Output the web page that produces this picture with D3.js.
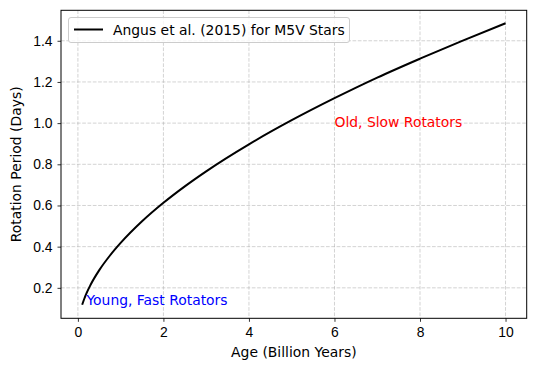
<!DOCTYPE html>
<html>
<head>
<meta charset="utf-8">
<script src="https://cdn.jsdelivr.net/npm/d3@7"></script>
<style>
  body { margin: 0; background: #fff; }
  svg { display: block; font-family: "DejaVu Sans", sans-serif; }
  .tick text { font-size: 13.9px; fill: #000; }
</style>
</head>
<body>
<svg id="viz" width="536" height="371"></svg>
<script>
// ages (Gyr) and periods (days)
var ages = [0.1, 0.15, 0.2, 0.3, 0.5, 0.75, 1, 1.5, 2, 2.5, 3, 4, 5, 6, 7, 8, 9, 10]
var periods = [0.118, 0.147, 0.173, 0.216, 0.286, 0.357, 0.418, 0.523, 0.613, 0.693, 0.766, 0.897, 1.014, 1.121, 1.221, 1.313, 1.401, 1.485]
var xTicks = [0, 2, 4, 6, 8, 10]
var yTicks = [0.2, 0.4, 0.6, 0.8, 1.0, 1.2, 1.4]

var svg = d3.select("#viz")
var pLeft = 61, pRight = 526.7, pTop = 10.3, pBottom = 318.3

var x = d3.scaleLinear().domain([-0.395, 10.495]).range([pLeft, pRight])
var y = d3.scaleLinear().domain([0.052, 1.548]).range([pBottom, pTop])

// grid
svg.append("g").selectAll("line").data(xTicks).join("line")
  .attr("x1", d => x(d)).attr("x2", d => x(d))
  .attr("y1", pTop).attr("y2", pBottom)
  .attr("stroke", "#b0b0b0").attr("stroke-opacity", 0.7)
  .attr("stroke-width", 0.8).attr("stroke-dasharray", "3.7,1.6")
svg.append("g").selectAll("line").data(yTicks).join("line")
  .attr("x1", pLeft).attr("x2", pRight)
  .attr("y1", d => y(d)).attr("y2", d => y(d))
  .attr("stroke", "#b0b0b0").attr("stroke-opacity", 0.7)
  .attr("stroke-width", 0.8).attr("stroke-dasharray", "3.7,1.6")

// axes
var xAxis = svg.append("g").attr("transform", `translate(0,${pBottom})`)
  .call(d3.axisBottom(x).tickValues(xTicks).tickSize(3.5).tickPadding(5).tickFormat(d3.format("d")))
var yAxis = svg.append("g").attr("transform", `translate(${pLeft},0)`)
  .call(d3.axisLeft(y).tickValues(yTicks).tickSize(3.5).tickPadding(5).tickFormat(d3.format(".1f")))
svg.selectAll(".domain").remove()
svg.selectAll(".tick line").attr("stroke", "#000").attr("stroke-width", 0.8)
xAxis.selectAll("text").attr("dy", "0.75em").attr("y", 8)

// frame
svg.append("rect")
  .attr("x", pLeft).attr("y", pTop)
  .attr("width", pRight - pLeft).attr("height", pBottom - pTop)
  .attr("fill", "none").attr("stroke", "#000").attr("stroke-width", 1)

// curve
var pts = ages.map((a, i) => [a, periods[i]])
svg.append("path")
  .datum(pts)
  .attr("fill", "none").attr("stroke", "#000").attr("stroke-width", 2)
  .attr("d", d3.line().x(d => x(d[0])).y(d => y(d[1])).curve(d3.curveMonotoneX))

// annotations
svg.append("text").attr("x", x(6)).attr("y", y(1.0) + 4)
  .attr("fill", "red").style("font-size", "13.9px").text("Old, Slow Rotators")
svg.append("text").attr("x", x(0.2)).attr("y", y(0.12) + 0.5)
  .attr("fill", "blue").style("font-size", "13.9px").text("Young, Fast Rotators")

// axis titles
svg.append("text").attr("x", (pLeft + pRight) / 2).attr("y", 357)
  .attr("text-anchor", "middle").style("font-size", "13.9px").text("Age (Billion Years)")
svg.append("text").attr("transform", `translate(20.5,${(pTop + pBottom) / 2}) rotate(-90)`)
  .attr("text-anchor", "middle").style("font-size", "13.9px").text("Rotation Period (Days)")

// legend
var lg = svg.append("g")
lg.append("rect").attr("x", 68.5).attr("y", 17.5).attr("width", 281).attr("height", 25)
  .attr("rx", 2.5).attr("fill", "#fff").attr("fill-opacity", 0.8)
  .attr("stroke", "#cccccc").attr("stroke-width", 1)
lg.append("line").attr("x1", 74).attr("x2", 103).attr("y1", 29.5).attr("y2", 29.5)
  .attr("stroke", "#000").attr("stroke-width", 2)
lg.append("text").attr("x", 113).attr("y", 34.5).style("font-size", "13.9px")
  .text("Angus et al. (2015) for M5V Stars")
</script>
</body>
</html>
